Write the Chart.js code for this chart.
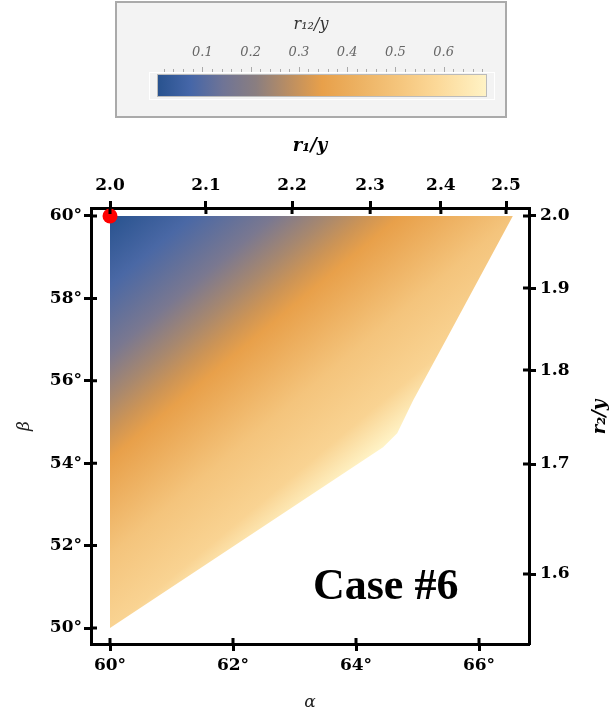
<!DOCTYPE html>
<html>
<head>
<meta charset="utf-8">
<script src="https://cdn.jsdelivr.net/npm/chart.js@4.4.1/dist/chart.umd.min.js"></script>
<style>
  body { margin: 0; background: #fff; }
  canvas { display: block; }
</style>
</head>
<body>
<canvas id="caseChart" width="613" height="713"></canvas>
<script>
// allowed region, outline in (alpha, beta) degrees
const regionAlpha = [60, 66.55, 65.48, 64.93, 64.67, 64.44, 60, 60];
const regionBeta  = [60, 60,    57.04, 55.53, 54.73, 54.39, 50, 60];

// red marker
const markerAlpha = [60];
const markerBeta = [60];

const alphaTicks = [60, 62, 64, 66];
const betaTicks = [50, 52, 54, 56, 58, 60];

// secondary axes: label and the alpha / beta where it sits
const r1Labels = ['2.0', '2.1', '2.2', '2.3', '2.4', '2.5'];
const r1AtAlpha = [60, 61.56, 62.96, 64.23, 65.38, 66.44];
const r2Labels = ['2.0', '1.9', '1.8', '1.7', '1.6'];
const r2AtBeta = [60, 58.25, 56.26, 53.98, 51.31];

// colour bar for r12/y
const cbTicks = [0.1, 0.2, 0.3, 0.4, 0.5, 0.6];
const cbMin = 0.006;
const cbMax = 0.69;

// colour map of the bar
const cmap = [
    [0.0, '#28528e'], [0.1, '#4566a8'], [0.2, '#6f7496'], [0.3, '#8a7e80'],
    [0.4, '#bb8e62'], [0.5, '#e8a04a'], [0.6, '#ecb060'], [0.75, '#f6c880'],
    [0.85, '#fcd999'], [1.0, '#fff3c6']
];
// same colours laid out across the region (r12/y grows slower away from the corner)
const regionStops = [
    [0.0, '#28528e'], [0.15, '#4a68a5'], [0.3, '#7a7890'], [0.4, '#a8886e'],
    [0.47, '#cc9456'], [0.53, '#e8a04a'], [0.74, '#f4c47c'], [0.9, '#f9d392'],
    [1.0, '#fff3c6']
];

function addStops(g, stops) {
    stops.forEach(s => g.addColorStop(s[0], s[1]));
    return g;
}

const tickFont = { family: 'DejaVu Serif', size: 17, weight: 'bold' };
const frame = { display: true, color: '#000', width: 3 };
const gridOpts = { display: true, drawOnChartArea: false, drawTicks: true, tickLength: 7, tickWidth: 3, tickColor: '#000' };

const extras = {
    id: 'extras',
    beforeDraw(chart) {
        const ctx = chart.ctx;
        ctx.save();
        // colour bar box
        ctx.fillStyle = '#f3f3f3';
        ctx.fillRect(116, 2, 390, 115);
        ctx.strokeStyle = '#aaa';
        ctx.lineWidth = 2;
        ctx.strokeRect(116, 2, 390, 115);

        ctx.fillStyle = '#333';
        ctx.font = 'italic 16px "DejaVu Serif"';
        ctx.textAlign = 'center';
        ctx.textBaseline = 'middle';
        ctx.fillText('r₁₂/y', 311, 25);

        const x0 = 157, x1 = 487, y0 = 74, y1 = 97;
        ctx.strokeStyle = '#fff';
        ctx.lineWidth = 1;
        ctx.strokeRect(149.5, 72.5, 345, 27);
        ctx.fillStyle = addStops(ctx.createLinearGradient(x0, 0, x1, 0), cmap);
        ctx.fillRect(x0, y0, x1 - x0, y1 - y0);
        ctx.strokeStyle = '#bbb';
        ctx.strokeRect(x0 + 0.5, y0 + 0.5, x1 - x0 - 1, y1 - y0 - 1);

        const px = v => x0 + (v - cbMin) / (cbMax - cbMin) * (x1 - x0);
        ctx.strokeStyle = '#aaa';
        ctx.lineWidth = 1;
        for (let k = 1; k <= 34; k++) {
            const x = Math.round(px(k * 0.02)) + 0.5;
            const major = k % 5 === 0;
            ctx.beginPath();
            ctx.moveTo(x, major ? 67 : 69);
            ctx.lineTo(x, 72);
            ctx.stroke();
        }
        ctx.fillStyle = '#666';
        ctx.font = 'italic 13px "DejaVu Serif"';
        cbTicks.forEach(v => ctx.fillText(v.toFixed(1), px(v), 53));
        ctx.restore();
    },
    afterDatasetsDraw(chart) {
        const ctx = chart.ctx;
        const a = chart.chartArea;
        const s = chart.scales;
        ctx.save();
        // tick marks also poke into the frame
        ctx.strokeStyle = '#000';
        ctx.lineWidth = 3;
        ctx.beginPath();
        s.x.ticks.forEach(t => { const p = s.x.getPixelForValue(t.value); ctx.moveTo(p, a.bottom); ctx.lineTo(p, a.bottom - 6); });
        s.x2.ticks.forEach(t => { const p = s.x2.getPixelForValue(t.value); ctx.moveTo(p, a.top); ctx.lineTo(p, a.top + 6); });
        s.y.ticks.forEach(t => { const p = s.y.getPixelForValue(t.value); ctx.moveTo(a.left, p); ctx.lineTo(a.left + 6, p); });
        s.y2.ticks.forEach(t => { const p = s.y2.getPixelForValue(t.value); ctx.moveTo(a.right, p); ctx.lineTo(a.right - 6, p); });
        ctx.stroke();

        ctx.fillStyle = '#000';
        ctx.font = 'bold 44px "Liberation Serif"';
        ctx.textAlign = 'left';
        ctx.textBaseline = 'alphabetic';
        ctx.fillText('Case #6', s.x.getPixelForValue(63.3), s.y.getPixelForValue(50.7));
        ctx.restore();
    },
    afterDraw(chart) {
        const ctx = chart.ctx;
        ctx.save();
        ctx.translate(600, 417);
        ctx.rotate(-Math.PI / 2);
        ctx.fillStyle = '#000';
        ctx.font = 'bold italic 18px "DejaVu Serif"';
        ctx.textAlign = 'center';
        ctx.textBaseline = 'middle';
        ctx.fillText('r₂/y', 0, 0);
        ctx.restore();
    }
};

function regionFill(c) {
    const chart = c.chart;
    if (!chart.chartArea) return '#e8a04a';
    const sx = chart.scales.x, sy = chart.scales.y;
    const x0 = sx.getPixelForValue(60), y0 = sy.getPixelForValue(60);
    // direction across the colour bands, length to the palest corner
    const nx = 0.641, ny = 0.767, len = 352;
    const g = chart.ctx.createLinearGradient(x0, y0, x0 + nx * len, y0 + ny * len);
    return addStops(g, regionStops);
}

const aMin = 59.691, aMax = 66.813;
const bMin = 49.612, bMax = 60.194;

new Chart(document.getElementById('caseChart'), {
    type: 'line',
    data: {
        datasets: [
            {
                type: 'scatter',
                data: markerAlpha.map((a, i) => ({ x: a, y: markerBeta[i] })),
                pointRadius: 7.5,
                pointBackgroundColor: '#ff0000',
                pointBorderWidth: 0,
                clip: false
            },
            {
                data: regionAlpha.map((a, i) => ({ x: a, y: regionBeta[i] })),
                borderWidth: 0,
                pointRadius: 0,
                tension: 0,
                fill: 'shape',
                backgroundColor: regionFill
            }
        ]
    },
    options: {
        responsive: false,
        animation: false,
        layout: { padding: { top: 122, left: 0, right: 0, bottom: 0 } },
        plugins: { legend: { display: false }, tooltip: { enabled: false } },
        scales: {
            x: {
                type: 'linear', position: 'bottom', min: aMin, max: aMax,
                afterBuildTicks: s => { s.ticks = alphaTicks.map(v => ({ value: v })); },
                ticks: { font: tickFont, color: '#000', padding: 4, maxRotation: 0, autoSkip: false, callback: v => v + '°' },
                grid: gridOpts, border: frame,
                title: { display: true, text: 'α', color: '#222', font: { family: 'DejaVu Serif', style: 'italic', size: 17 }, padding: { top: 0, bottom: 0 } },
                afterFit: s => { s.height = 69; }
            },
            x2: {
                type: 'linear', position: 'top', min: aMin, max: aMax,
                afterBuildTicks: s => { s.ticks = r1AtAlpha.map(v => ({ value: v })); },
                ticks: { font: tickFont, color: '#000', padding: 5, maxRotation: 0, autoSkip: false, callback: (v, i) => r1Labels[i] },
                grid: gridOpts, border: frame,
                title: { display: true, text: 'r₁/y', color: '#000', font: { family: 'DejaVu Serif', style: 'italic', weight: 'bold', size: 18 }, padding: { top: 14, bottom: 0 } },
                afterFit: s => { s.height = 86; }
            },
            y: {
                type: 'linear', position: 'left', min: bMin, max: bMax,
                afterBuildTicks: s => { s.ticks = betaTicks.map(v => ({ value: v })); },
                ticks: { font: tickFont, color: '#000', padding: 2, autoSkip: false, callback: v => v + '°' },
                grid: gridOpts, border: frame,
                title: { display: true, text: 'β', color: '#222', font: { family: 'DejaVu Serif', style: 'italic', size: 17 }, padding: { top: 14, bottom: 0 } },
                afterFit: s => { s.width = 91; }
            },
            y2: {
                type: 'linear', position: 'right', min: bMin, max: bMax,
                afterBuildTicks: s => { s.ticks = r2AtBeta.map(v => ({ value: v })); },
                ticks: { font: tickFont, color: '#000', padding: 4, autoSkip: false, callback: (v, i) => r2Labels[i] },
                grid: gridOpts, border: frame,
                title: { display: false },
                afterFit: s => { s.width = 84; }
            }
        }
    },
    plugins: [extras]
});
</script>
</body>
</html>
